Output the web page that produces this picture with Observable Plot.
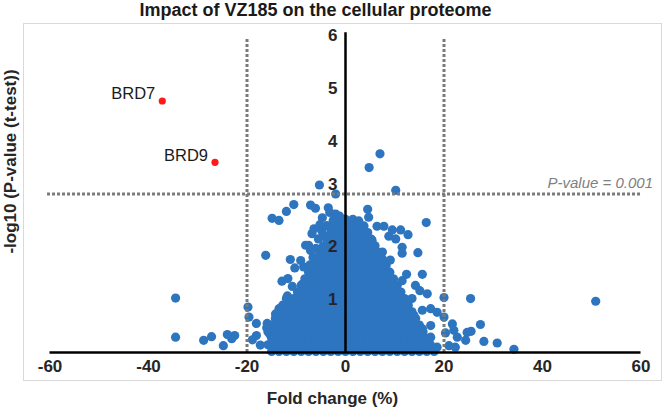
<!DOCTYPE html>
<html><head><meta charset="utf-8">
<script src="https://cdn.jsdelivr.net/npm/d3@7"></script>
<script src="https://cdn.jsdelivr.net/npm/@observablehq/plot@0.6"></script>
<style>
body{margin:0;background:#fff}
#wrap{position:relative;width:666px;height:408px;overflow:hidden}
#frame{position:absolute;left:23px;top:23px;width:639px;height:358px;box-sizing:border-box;border:1.5px solid #d9d9d9;pointer-events:none}
</style>
</head><body><div id="wrap"></div>
<script>
// ---- data ----
const chartTitle = "Impact of VZ185 on the cellular proteome";
const xTitle = "Fold change (%)";
const yTitle = "-log10 (P-value (t-test))";
const pLabel = "P-value = 0.001";
const xTicks = [-60, -40, -20, 0, 20, 40, 60];
const yTicks = [1, 2, 3, 4, 5, 6];
const foldCut = [-20, 20];
const pCut = 3;

const hitNames = ["BRD7", "BRD9"];
const hitFold = [-37.2, -26.5];
const hitLogP = [4.76, 3.6];

// scattered proteins [fold change, -log10 p]
const sparsePoints = [
[-5.3,3.17],[-2.0,3.0],[7.0,3.76],[4.8,3.50],[10.2,3.07],[4.5,2.71],
[-10.5,2.80],[-7.1,2.79],[-6.1,2.73],[-3.5,2.74],[-12.0,2.67],[-14.9,2.54],[-13.5,2.50],[-3.2,2.65],[-4.7,2.55],[-1.2,2.58],[-6.4,2.34],[-6.8,2.25],
[-16.2,1.84],[-11.2,1.76],[-10.3,1.60],[-7.5,2.03],[-9.1,1.74],[-8.1,2.03],[-7.1,1.93],[-8.5,1.62],
[-12.9,1.35],[-11.7,1.40],[-10.8,1.25],[-11.8,1.07],[-13.5,0.83],[-14.2,0.73],[-15.9,0.55],[-15.4,0.35],[-16.0,0.47],[-8.8,1.29],
[-19.8,0.86],[-19.6,0.67],[-18.1,0.55],[-17.3,0.14],[-18.1,0.32],[-18.9,0.24],
[-34.5,1.03],[-34.5,0.29],[-28.8,0.23],[-27.2,0.30],[-24.8,0.13],[-24.0,0.34],[-22.5,0.32],[-23.1,0.26],
[-5.5,2.15],[-4.8,2.30],[-6.0,1.97],[-5.2,2.42],[-2.5,2.50],[-3.8,2.40],[-4.3,2.20],[-2.0,2.62],[-6.6,1.80],[-7.2,1.66],
[4.7,2.56],[16.4,2.46],[2.7,2.49],[6.4,2.39],[7.8,2.39],[9.5,2.32],[11.2,2.32],[12.7,2.23],[10.2,2.15],[8.8,2.20],[2.4,2.06],[3.4,2.31],[5.4,2.12],
[14.7,1.89],[11.5,1.99],[11.5,1.88],[7.5,1.90],[9.1,1.75],[15.6,1.48],[12.4,1.48],[11.5,1.36],[14.2,1.27],[15.1,1.17],[16.6,1.11],[13.5,1.02],
[20.0,1.04],[25.4,1.02],[50.8,0.97],[15.6,0.80],[17.3,0.83],[18.6,0.76],[20.0,0.67],[13.9,0.70],[12.2,0.67],[21.7,0.54],[27.4,0.53],[17.3,0.51],[15.6,0.45],
[22.0,0.42],[20.3,0.37],[24.7,0.38],[25.5,0.40],[13.5,0.32],[17.3,0.29],[22.7,0.29],[24.4,0.23],[28.1,0.21],[30.8,0.18],[21.0,0.13],[34.2,0.06],[22.3,0.10],[18.6,0.10],[15.2,0.20]
];

// the dense core of the cloud, read row by row: [-log10 p, fold changes]
const denseRows = [
[0.02, [-15,-13.5,-12,-10.5,-9,-7.5,-6,-4.5,-3,-1.5,0,1.5,3,4.5,6,7.5,9,10.5,12,13.5,15,16.5,18]],
[0.145, [-15.75,-14.25,-12.75,-11.25,-9.75,-8.25,-6.75,-5.25,-3.75,-2.25,-0.75,0.75,2.25,3.75,5.25,6.75,8.25,9.75,11.25,12.75,14.25,15.75,17.25]],
[0.27, [-15,-13.5,-12,-10.5,-9,-7.5,-6,-4.5,-3,-1.5,0,1.5,3,4.5,6,7.5,9,10.5,12,13.5,15,16.5]],
[0.395, [-15.75,-14.25,-12.75,-11.25,-9.75,-8.25,-6.75,-5.25,-3.75,-2.25,-0.75,0.75,2.25,3.75,5.25,6.75,8.25,9.75,11.25,12.75,14.25,15.75]],
[0.52, [-15,-13.5,-12,-10.5,-9,-7.5,-6,-4.5,-3,-1.5,0,1.5,3,4.5,6,7.5,9,10.5,12,13.5,15]],
[0.645, [-14.25,-12.75,-11.25,-9.75,-8.25,-6.75,-5.25,-3.75,-2.25,-0.75,0.75,2.25,3.75,5.25,6.75,8.25,9.75,11.25,12.75,14.25]],
[0.77, [-13.5,-12,-10.5,-9,-7.5,-6,-4.5,-3,-1.5,0,1.5,3,4.5,6,7.5,9,10.5,12,13.5]],
[0.895, [-12.75,-11.25,-9.75,-8.25,-6.75,-5.25,-3.75,-2.25,-0.75,0.75,2.25,3.75,5.25,6.75,8.25,9.75,11.25,12.75]],
[1.02, [-12,-10.5,-9,-7.5,-6,-4.5,-3,-1.5,0,1.5,3,4.5,6,7.5,9,10.5,12]],
[1.145, [-9.75,-8.25,-6.75,-5.25,-3.75,-2.25,-0.75,0.75,2.25,3.75,5.25,6.75,8.25,9.75,11.25]],
[1.27, [-9,-7.5,-6,-4.5,-3,-1.5,0,1.5,3,4.5,6,7.5,9,10.5]],
[1.395, [-8.25,-6.75,-5.25,-3.75,-2.25,-0.75,0.75,2.25,3.75,5.25,6.75,8.25,9.75]],
[1.52, [-7.5,-6,-4.5,-3,-1.5,0,1.5,3,4.5,6,7.5,9]],
[1.645, [-6.75,-5.25,-3.75,-2.25,-0.75,0.75,2.25,3.75,5.25,6.75,8.25]],
[1.77, [-6,-4.5,-3,-1.5,0,1.5,3,4.5,6,7.5]],
[1.895, [-5.25,-3.75,-2.25,-0.75,0.75,2.25,3.75,5.25,6.75]],
[2.02, [-4.5,-3,-1.5,0,1.5,3,4.5,6]],
[2.145, [-3.75,-2.25,-0.75,0.75,2.25,3.75,5.25]],
[2.27, [-3,-1.5,0,1.5,3,4.5]],
[2.395, [-2.25,-0.75,0.75,2.25,3.75]],
[2.52, [-1.5,0,1.5]]
];

// ---- build tables ----
const proteins = [
  ...denseRows.flatMap(([y, xs]) => xs.map(x => ({x, y}))),
  ...sparsePoints.map(([x, y]) => ({x, y}))
];
const hits = hitNames.map((name, i) => ({name, x: hitFold[i], y: hitLogP[i]}));

const font = "'Liberation Sans', Arial, Helvetica, sans-serif";
const blue = "#2e75c0";
const ink = "#262626";

const chart = Plot.plot({
  width: 666, height: 408,
  marginLeft: 49.5, marginRight: 25.5, marginTop: 35, marginBottom: 56,
  x: {domain: [xTicks[0], xTicks[xTicks.length - 1]], axis: null},
  y: {domain: [0, yTicks[yTicks.length - 1]], axis: null},
  style: {fontFamily: font, background: "transparent", overflow: "visible"},
  marks: [
    Plot.dot(proteins, {x: "x", y: "y", r: 4.6, fill: blue, stroke: "none"}),
    Plot.dot(hits, {x: "x", y: "y", r: 3.6, fill: "#ff1a1a", stroke: "none"}),
    Plot.text(hits, {x: "x", y: "y", text: "name", textAnchor: "end", dx: -7, dy: -7, fontSize: 16.5, fill: "#1a1a1a"}),
    // threshold lines
    Plot.ruleX(foldCut, {y1: 0, y2: 5.95, stroke: "#7a7a7a", strokeWidth: 3, strokeDasharray: "3,2"}),
    Plot.ruleY([pCut], {x1: -60.5, x2: 60.3, stroke: "#7a7a7a", strokeWidth: 3, strokeDasharray: "3,2"}),
    Plot.text([pLabel], {x: xTicks[xTicks.length - 1], y: pCut, text: d => d, textAnchor: "end", dx: 12, dy: -11, fontSize: 15, fontStyle: "italic", fill: "#7f7f7f"}),
    // axes lines
    Plot.ruleY([0], {x1: xTicks[0], x2: xTicks[xTicks.length - 1], stroke: "#000", strokeWidth: 2.5}),
    Plot.ruleX([0], {y1: 0, y2: 6.05, stroke: "#000", strokeWidth: 2.5}),
    // tick labels
    Plot.text(xTicks, {x: d => d, y: 0, dy: 14, text: d => String(d), fontSize: 17, fontWeight: "bold", fill: ink}),
    Plot.text(yTicks.filter(d => d !== pCut), {x: 0, y: d => d, dx: -8, textAnchor: "end", text: d => String(d), fontSize: 17, fontWeight: "bold", fill: ink}),
    Plot.text(yTicks.filter(d => d === pCut), {x: 0, y: d => d, dx: -8, dy: -9, textAnchor: "end", text: d => String(d), fontSize: 17, fontWeight: "bold", fill: ink}),
    // titles
    Plot.text([chartTitle], {frameAnchor: "top", text: d => d, dx: -30, dy: -25, lineAnchor: "middle", fontSize: 18, fontWeight: "bold", fill: "#1a1a1a"}),
    Plot.text([xTitle], {frameAnchor: "bottom", text: d => d, dx: -13, dy: 46, lineAnchor: "middle", fontSize: 17, fontWeight: "bold", fill: ink}),
    Plot.text([yTitle], {frameAnchor: "left", text: d => d, rotate: -90, textAnchor: "middle", lineAnchor: "middle", dx: -39.5, dy: -32.5, fontSize: 17, fontWeight: "bold", fill: ink})
  ]
});
const wrap = document.getElementById("wrap");
chart.style.position = "absolute";
chart.style.left = "0px";
chart.style.top = "0px";
wrap.appendChild(chart);
const frame = document.createElement("div");
frame.id = "frame";
wrap.appendChild(frame);
</script>
</body></html>
